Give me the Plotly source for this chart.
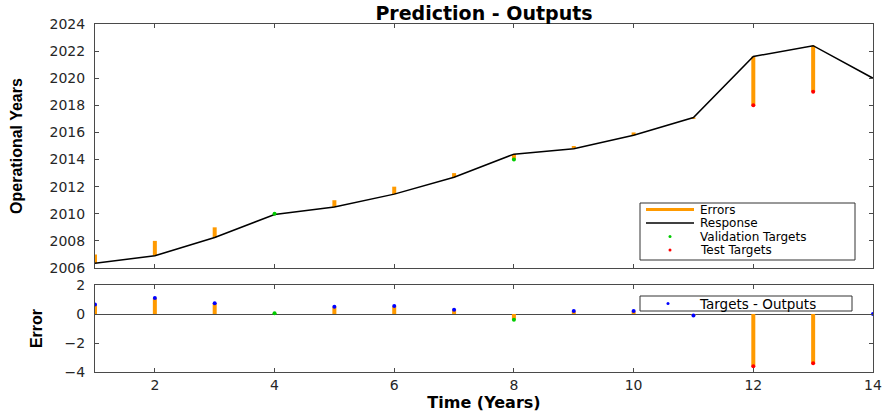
import plotly.graph_objects as go

# ---- data ----
time = [1, 2, 3, 4, 5, 6, 7, 8, 9, 10, 11, 12, 13, 14]
targets = [2007, 2008, 2009, 2010, 2011, 2012, 2013, 2014, 2015, 2016, 2017, 2018, 2019, 2020]
errors = [0.65, 1.1, 0.75, 0.05, 0.5, 0.55, 0.3, -0.4, 0.2, 0.2, -0.1, -3.6, -3.4, 0.0]
split = ["train", "train", "train", "val", "train", "train", "train", "val",
         "train", "train", "train", "test", "test", "train"]
outputs = [t - e for t, e in zip(targets, errors)]

top_legend_labels = ["Errors", "Response", "Validation Targets", "Test Targets"]
bottom_legend_labels = ["Targets - Outputs"]

ORANGE = "#FF9A00"
BLUE = "#0000FF"
GREEN = "#00CC00"
RED = "#FF0000"
AX = "#4a4a4a"
TXT = "#262626"

W, H = 882, 412
ML, MR, MT, MB = 95, 9, 24, 40
PW = W - ML - MR
PH = H - MT - MB


def px_x(x):
    return (x - ML) / PW


def px_y(y):
    return (H - MB - y) / PH


def seg_x(xs):
    out = []
    for x in xs:
        out += [x, x, None]
    return out


def seg_y(a, b):
    out = []
    for p, q in zip(a, b):
        out += [p, q, None]
    return out


def pick(vals, kind):
    return [v for v, s in zip(vals, split) if s == kind]


fig = go.Figure()

# top: errors
fig.add_trace(go.Scatter(x=seg_x(time), y=seg_y(targets, outputs), mode="lines",
                         line=dict(color=ORANGE, width=4), name=top_legend_labels[0],
                         showlegend=False, xaxis="x", yaxis="y"))
fig.add_trace(go.Scatter(x=time, y=outputs, mode="lines",
                         line=dict(color="black", width=1.5), name=top_legend_labels[1],
                         showlegend=False, xaxis="x", yaxis="y"))
fig.add_trace(go.Scatter(x=pick(time, "val"), y=pick(targets, "val"), mode="markers",
                         marker=dict(color=GREEN, size=4), name=top_legend_labels[2],
                         showlegend=False, xaxis="x", yaxis="y"))
fig.add_trace(go.Scatter(x=pick(time, "test"), y=pick(targets, "test"), mode="markers",
                         marker=dict(color=RED, size=4), name=top_legend_labels[3],
                         showlegend=False, xaxis="x", yaxis="y"))

# bottom: error bars
zeros = [0] * len(time)
fig.add_trace(go.Scatter(x=seg_x(time), y=seg_y(zeros, errors), mode="lines",
                         line=dict(color=ORANGE, width=4), showlegend=False,
                         xaxis="x2", yaxis="y2"))
fig.add_trace(go.Scatter(x=pick(time, "train"), y=pick(errors, "train"), mode="markers",
                         marker=dict(color=BLUE, size=4), name=bottom_legend_labels[0],
                         showlegend=False, xaxis="x2", yaxis="y2"))
fig.add_trace(go.Scatter(x=pick(time, "val"), y=pick(errors, "val"), mode="markers",
                         marker=dict(color=GREEN, size=4), showlegend=False,
                         xaxis="x2", yaxis="y2"))
fig.add_trace(go.Scatter(x=pick(time, "test"), y=pick(errors, "test"), mode="markers",
                         marker=dict(color=RED, size=4), showlegend=False,
                         xaxis="x2", yaxis="y2"))

# ---- manual legends (MATLAB style) ----
shapes = []
annotations = []
LFONT = dict(family="DejaVu Sans", size=12, color="black")

# top legend box
shapes.append(dict(type="rect", xref="paper", yref="paper",
                   x0=px_x(640), x1=px_x(855), y0=px_y(260), y1=px_y(203),
                   line=dict(color="#333333", width=1), fillcolor="white", layer="above"))
rows = [209.5, 223, 236.5, 250]
sym = [("line", ORANGE, 3), ("line", "black", 1.5), ("dot", GREEN, 0), ("dot", RED, 0)]
for (kind, col, wd), yy, lab in zip(sym, rows, top_legend_labels):
    if kind == "line":
        shapes.append(dict(type="line", xref="paper", yref="paper",
                           x0=px_x(646), x1=px_x(694), y0=px_y(yy), y1=px_y(yy),
                           line=dict(color=col, width=wd), layer="above"))
    else:
        shapes.append(dict(type="circle", xref="paper", yref="paper",
                           x0=px_x(668.5), x1=px_x(671.5), y0=px_y(yy + 1.5), y1=px_y(yy - 1.5),
                           line=dict(color=col, width=0), fillcolor=col, layer="above"))
    annotations.append(dict(text=lab, xref="paper", yref="paper", x=px_x(698), y=px_y(yy),
                            xanchor="left", yanchor="middle", showarrow=False, font=LFONT))

# bottom legend box
shapes.append(dict(type="rect", xref="paper", yref="paper",
                   x0=px_x(640), x1=px_x(852), y0=px_y(311), y1=px_y(296),
                   line=dict(color="#333333", width=1), fillcolor="white", layer="above"))
shapes.append(dict(type="circle", xref="paper", yref="paper",
                   x0=px_x(666.5), x1=px_x(669.5), y0=px_y(305), y1=px_y(302),
                   line=dict(color=BLUE, width=0), fillcolor=BLUE, layer="above"))
annotations.append(dict(text=bottom_legend_labels[0], xref="paper", yref="paper",
                        x=px_x(697), y=px_y(303.5), xanchor="left", yanchor="middle",
                        showarrow=False, font=dict(family="DejaVu Sans", size=13.5, color="black")))

tickfont = dict(family="DejaVu Sans", size=14, color=TXT)
axis_common = dict(showline=True, linecolor=AX, linewidth=1, mirror="ticks",
                   ticks="inside", ticklen=4, tickcolor=AX, showgrid=False,
                   tickfont=tickfont, automargin=False)
YT_FONT = dict(family="Liberation Sans", size=16, color="black")

fig.update_layout(
    width=W, height=H,
    margin=dict(l=ML, r=MR, t=MT, b=MB),
    paper_bgcolor="white", plot_bgcolor="white",
    title=dict(text="<b>Prediction - Outputs</b>", x=(ML + PW / 2) / W, xanchor="center",
               y=1 - 13 / H, yanchor="middle",
               font=dict(family="DejaVu Sans", size=19, color="black")),
    xaxis=dict(domain=[0, 1], range=[1, 14], tickvals=[2, 4, 6, 8, 10, 12, 14],
               showticklabels=False, anchor="y", zeroline=False, **axis_common),
    yaxis=dict(domain=[px_y(268), 1], range=[2006, 2024], dtick=2, anchor="x",
               zeroline=False, ticklabelstandoff=6,
               title=dict(text="<b>Operational Years</b>", standoff=22, font=YT_FONT),
               **axis_common),
    xaxis2=dict(domain=[0, 1], range=[1, 14], tickvals=[2, 4, 6, 8, 10, 12, 14],
                anchor="y2", zeroline=False, ticklabelstandoff=0,
                title=dict(text="<b>Time (Years)</b>", standoff=7,
                           font=dict(family="DejaVu Sans", size=16, color="black")),
                **axis_common),
    yaxis2=dict(domain=[0, px_y(285)], range=[-4, 2], tickvals=[-4, -2, 0, 2], anchor="x2",
                zeroline=True, zerolinecolor=AX, zerolinewidth=1, ticklabelstandoff=6,
                title=dict(text="<b>Error</b>", standoff=17, font=YT_FONT),
                **axis_common),
    shapes=shapes,
    annotations=annotations,
    showlegend=False,
)

fig.write_html("out.html", config={"displayModeBar": False},
               post_script="document.body.style.margin='0';document.body.style.overflow='hidden';")
